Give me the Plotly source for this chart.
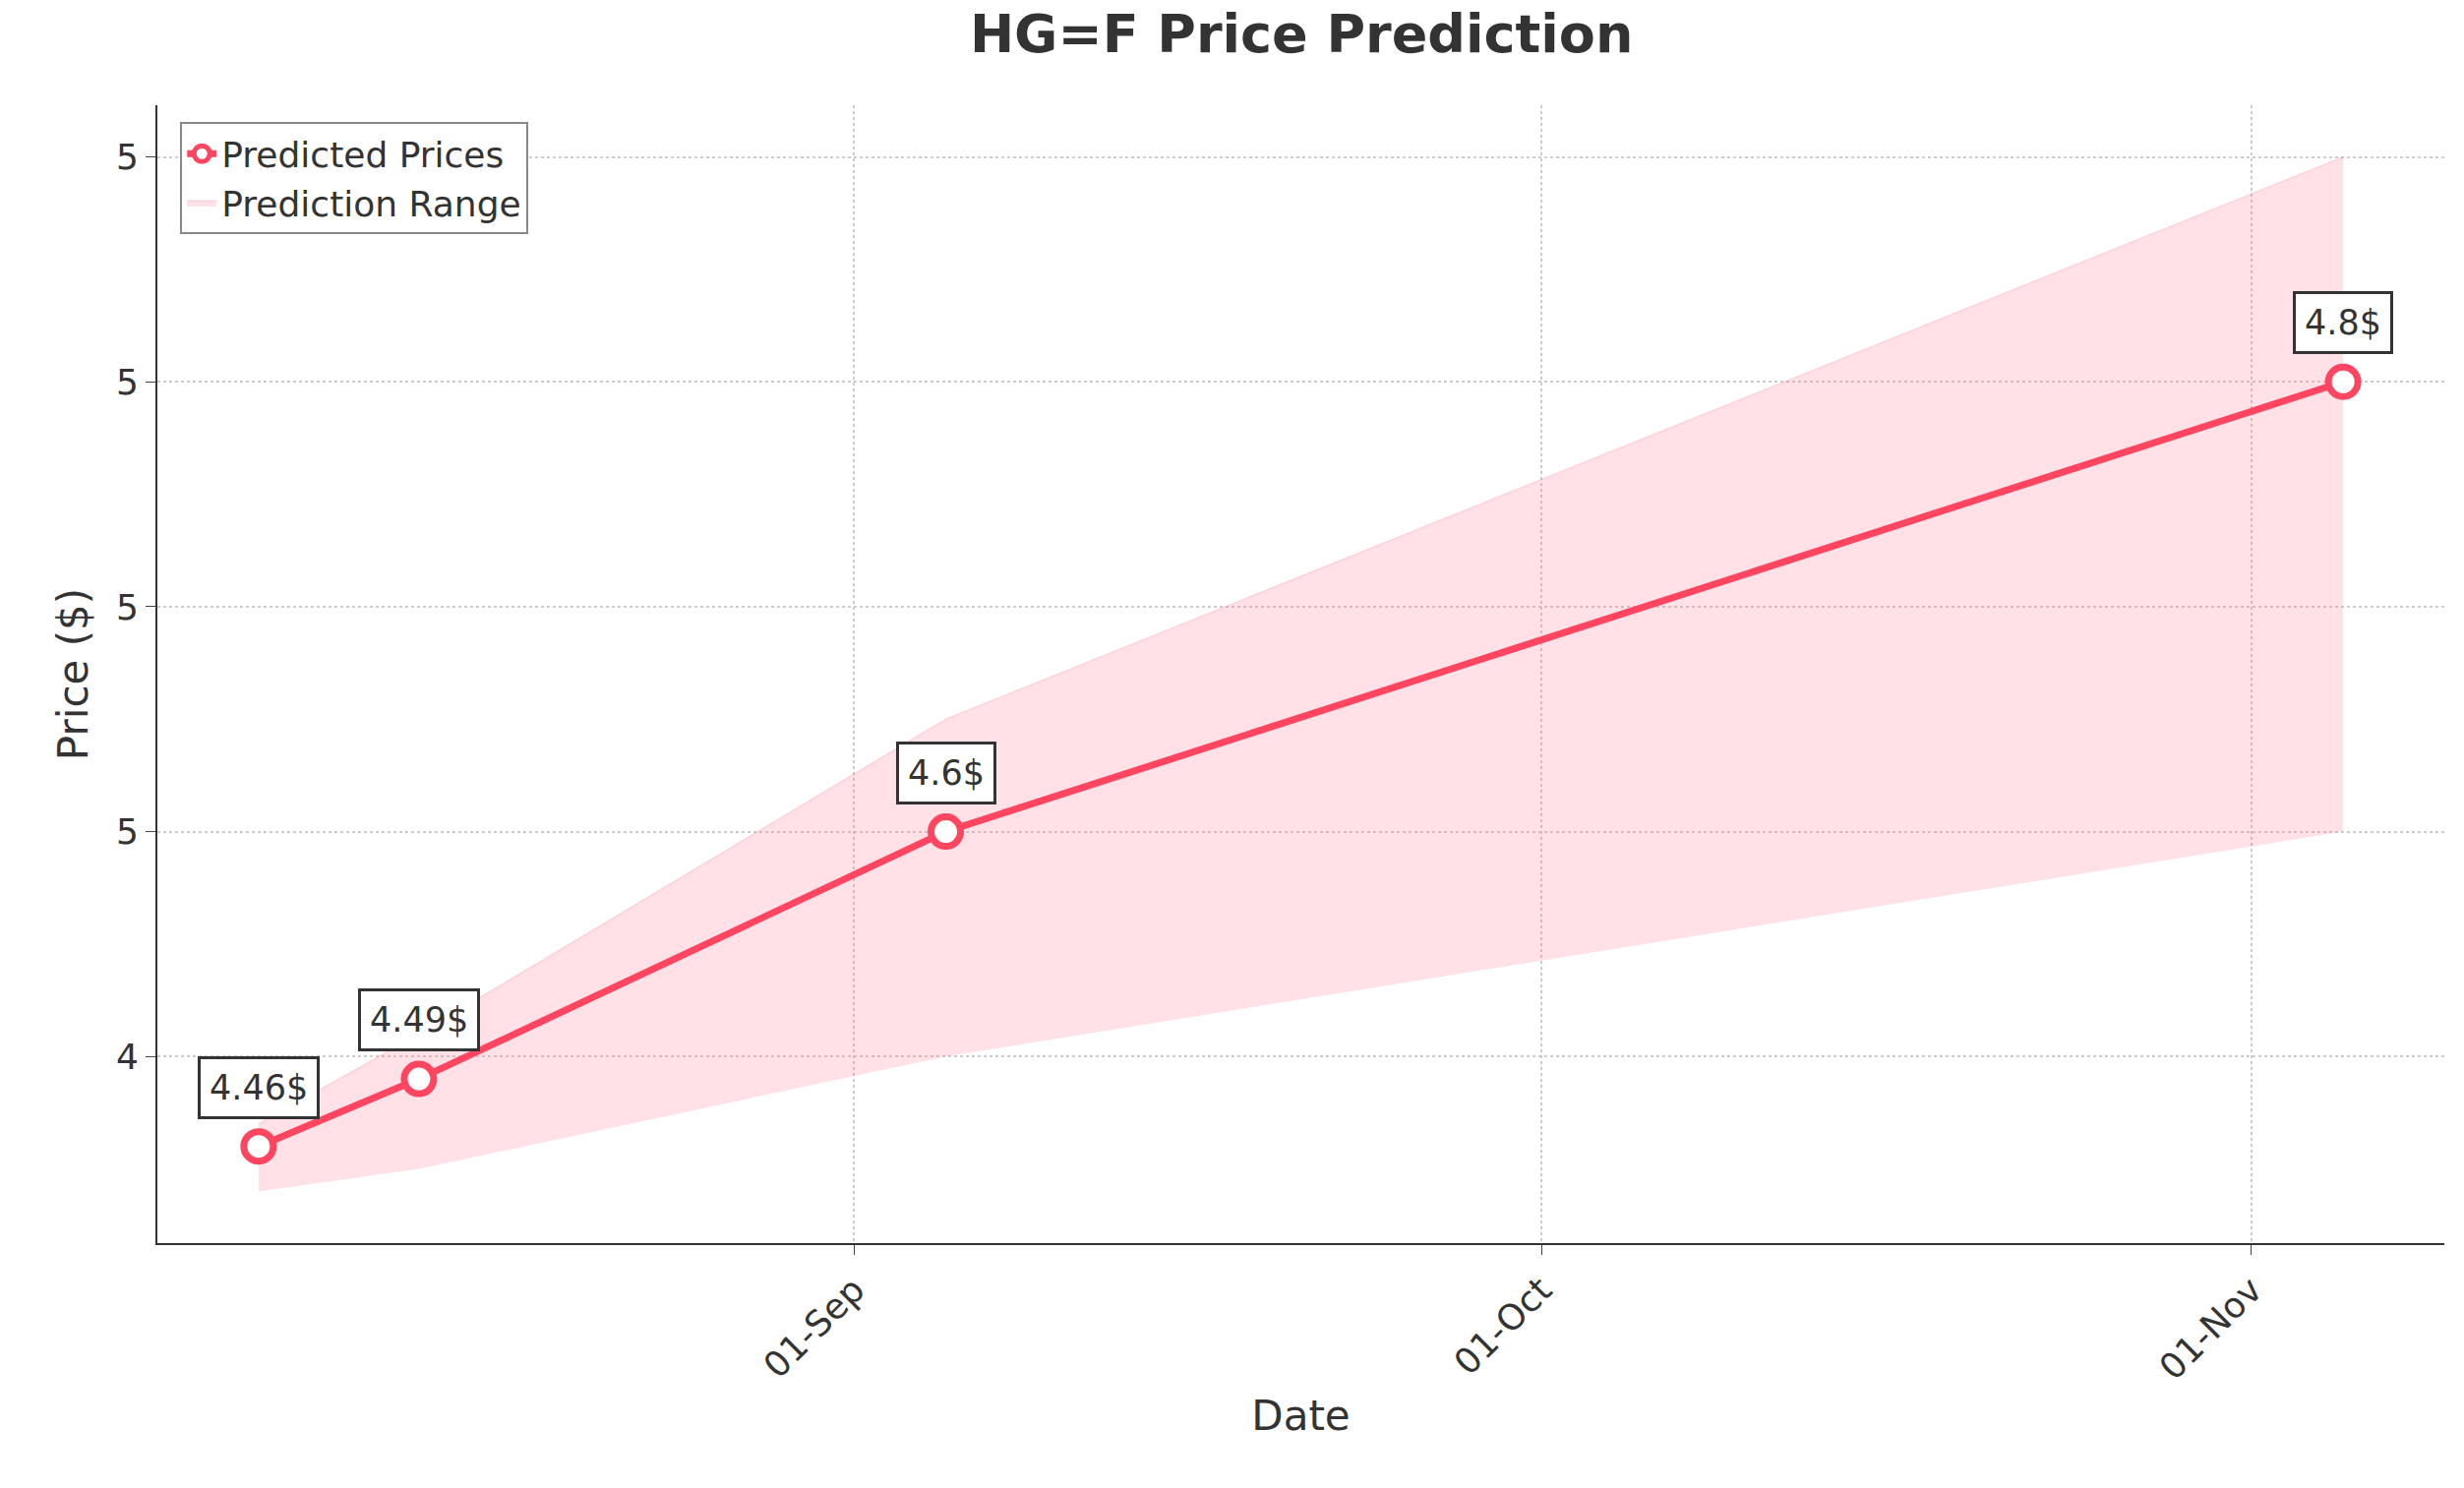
import plotly.graph_objects as go

# values
dates = ["2024-08-06", "2024-08-13", "2024-09-05", "2024-11-05"]
prices = [4.46, 4.49, 4.60, 4.80]
lower = [4.44, 4.45, 4.50, 4.60]
upper = [4.47, 4.51, 4.65, 4.90]
labels = ["4.46$", "4.49$", "4.6$", "4.8$"]
ytick_vals = [4.5, 4.6, 4.7, 4.8, 4.9]
ytick_text = ["4", "5", "5", "5", "5"]

red = "#ff4560"
font = "DejaVu Sans"

fig = go.Figure()
fig.add_trace(go.Scatter(x=dates, y=lower, mode="lines", line=dict(width=0), showlegend=False, hoverinfo="skip"))
fig.add_trace(go.Scatter(x=dates, y=upper, mode="lines", fill="tonexty", fillcolor="rgba(255,105,135,0.2)",
                         line=dict(width=1.5, color="rgba(255,105,135,0.2)"), name="Prediction Range"))
fig.add_trace(go.Scatter(x=dates, y=prices, mode="lines+markers", name="Predicted Prices",
                         line=dict(color=red, width=7),
                         marker=dict(size=30, color="white", line=dict(color=red, width=7))))

for d, p, t in zip(dates, prices, labels):
    fig.add_annotation(x=d, y=p, text=t, showarrow=False, yshift=60,
                       font=dict(size=35, color="#333333", family=font),
                       bgcolor="white", bordercolor="#333333", borderwidth=3, borderpad=9)

fig.update_layout(
    width=2505, height=1513, plot_bgcolor="white", paper_bgcolor="white",
    margin=dict(l=152, r=28, t=99, b=257),
    font=dict(family=font, size=36, color="#333333"),
    title=dict(text="<b>HG=F Price Prediction</b>", x=0.525, xanchor="center", y=0.995, yanchor="top",
               font=dict(size=54, color="#333333")),
    legend=dict(x=0.01, y=0.985, xanchor="left", yanchor="top", bordercolor="#888888", borderwidth=2,
                font=dict(size=36), bgcolor="white", traceorder="reversed"),
)
fig.update_xaxes(range=["2024-08-01 14:00", "2024-11-09 10:00"],
                 tickvals=["2024-09-01", "2024-10-01", "2024-11-01"], ticktext=["01-Sep", "01-Oct", "01-Nov"],
                 tickangle=-45, showline=True, linecolor="#333333", linewidth=2, ticks="outside", ticklen=10,
                 showgrid=True, gridcolor="#cccccc", griddash="dot", gridwidth=1.5,
                 title=dict(text="Date", font=dict(size=42)), zeroline=False)
fig.update_yaxes(range=[4.417, 4.923], tickvals=ytick_vals, ticktext=ytick_text,
                 showline=True, linecolor="#333333", linewidth=2, ticks="outside", ticklen=10,
                 showgrid=True, gridcolor="#cccccc", griddash="dot", gridwidth=1.5,
                 title=dict(text="Price ($)", font=dict(size=42)), zeroline=False)

fig.write_html("out.html")
